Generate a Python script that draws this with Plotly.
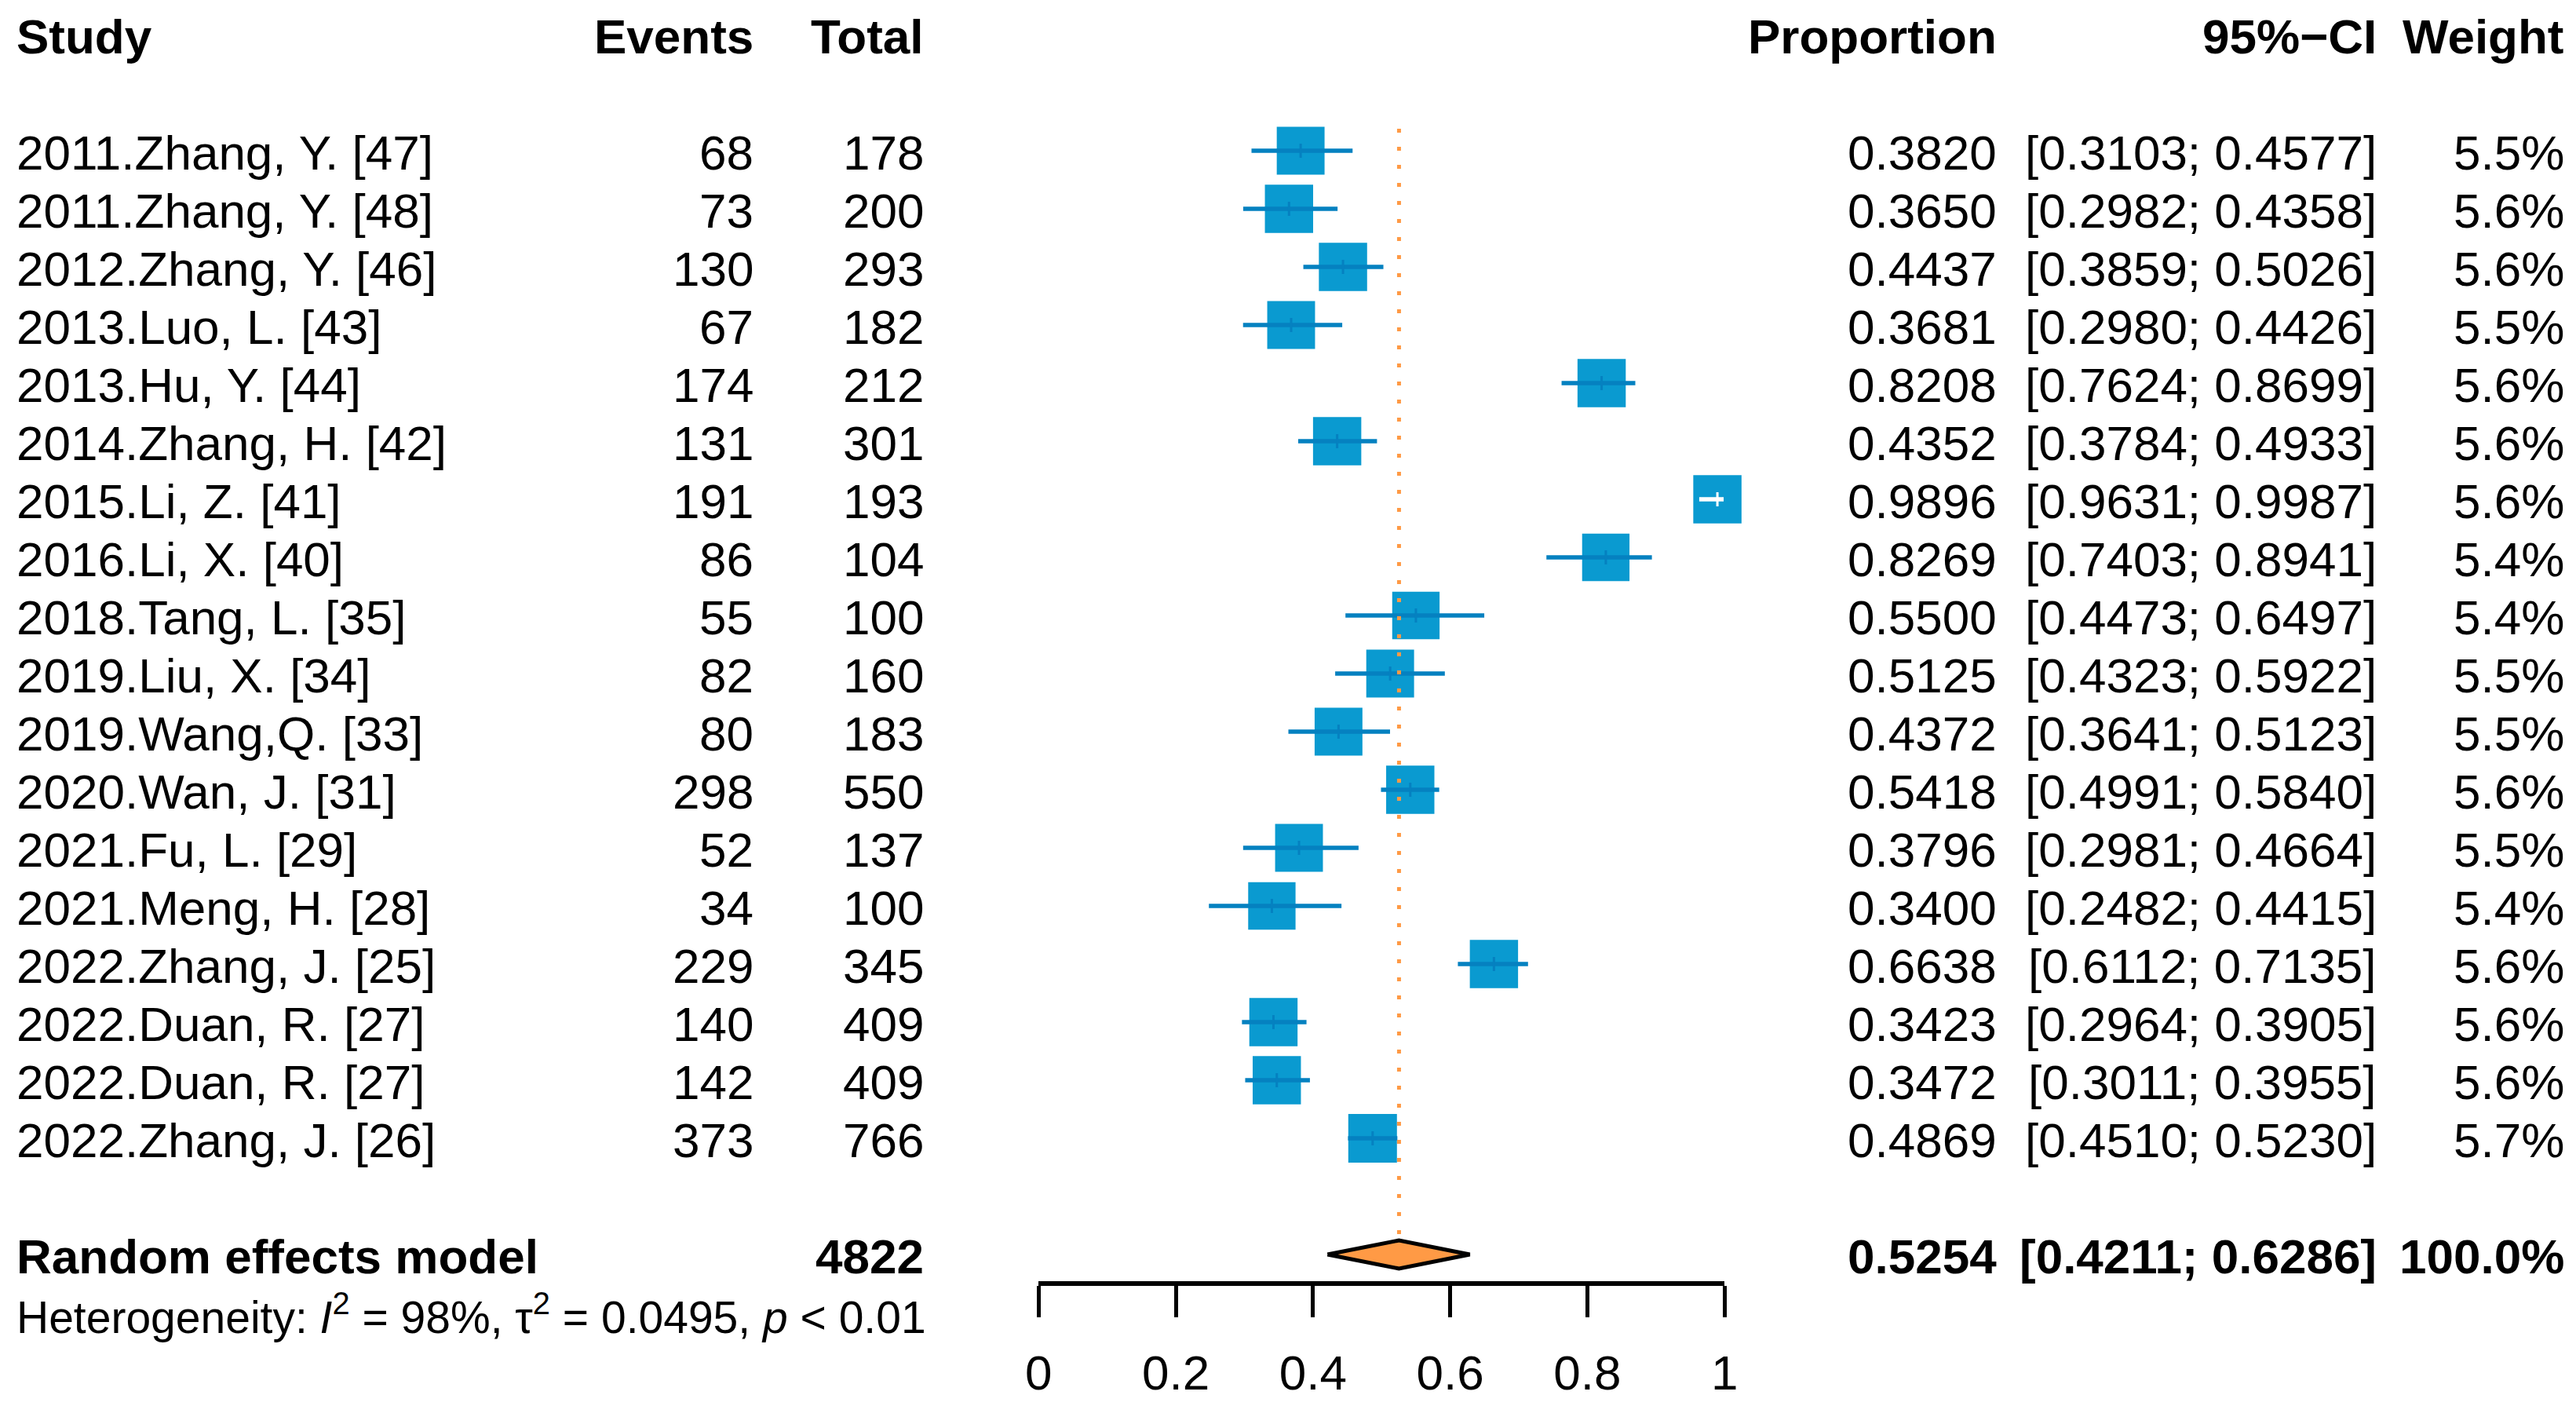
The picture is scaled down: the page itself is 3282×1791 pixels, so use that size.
import plotly.graph_objects as go
import math

# ---------------- data ----------------
studies = ["2011.Zhang, Y. [47]", "2011.Zhang, Y. [48]", "2012.Zhang, Y. [46]", "2013.Luo, L. [43]",
           "2013.Hu, Y. [44]", "2014.Zhang, H. [42]", "2015.Li, Z. [41]", "2016.Li, X. [40]",
           "2018.Tang, L. [35]", "2019.Liu, X. [34]", "2019.Wang,Q. [33]", "2020.Wan, J. [31]",
           "2021.Fu, L. [29]", "2021.Meng, H. [28]", "2022.Zhang, J. [25]", "2022.Duan, R. [27]",
           "2022.Duan, R. [27]", "2022.Zhang, J. [26]"]
events = [68, 73, 130, 67, 174, 131, 191, 86, 55, 82, 80, 298, 52, 34, 229, 140, 142, 373]
totals = [178, 200, 293, 182, 212, 301, 193, 104, 100, 160, 183, 550, 137, 100, 345, 409, 409, 766]
proportion = [0.3820, 0.3650, 0.4437, 0.3681, 0.8208, 0.4352, 0.9896, 0.8269, 0.5500, 0.5125,
              0.4372, 0.5418, 0.3796, 0.3400, 0.6638, 0.3423, 0.3472, 0.4869]
ci_lower = [0.3103, 0.2982, 0.3859, 0.2980, 0.7624, 0.3784, 0.9631, 0.7403, 0.4473, 0.4323,
            0.3641, 0.4991, 0.2981, 0.2482, 0.6112, 0.2964, 0.3011, 0.4510]
ci_upper = [0.4577, 0.4358, 0.5026, 0.4426, 0.8699, 0.4933, 0.9987, 0.8941, 0.6497, 0.5922,
            0.5123, 0.5840, 0.4664, 0.4415, 0.7135, 0.3905, 0.3955, 0.5230]
weights = [5.5, 5.6, 5.6, 5.5, 5.6, 5.6, 5.6, 5.4, 5.4, 5.5, 5.5, 5.6, 5.5, 5.4, 5.6, 5.6, 5.6, 5.7]

re_total = 4822
re_est, re_lower, re_upper, re_weight = 0.5254, 0.4211, 0.6286, 100.0
het_text = "Heterogeneity: <i>I</i><sup>2</sup> = 98%, τ<sup>2</sup> = 0.0495, <i>p</i> &lt; 0.01"
x_ticks = [0, 0.2, 0.4, 0.6, 0.8, 1]
x_tick_labels = ["0", "0.2", "0.4", "0.6", "0.8", "1"]
headers = ["Study", "Events", "Total", "Proportion", "95%−CI", "Weight"]

# ---------------- layout constants ----------------
W, H = 3282, 1791
ROW0_PX, ROW_PX = 44, 74          # header row centre and row spacing in pixels
FONT = "Liberation Sans, Arial, Helvetica, sans-serif"
FS, FS_HET = 62, 57
SQ_COL, LINE_COL, DIA_COL = "#0A9AD0", "#0581C0", "#FF9A45"

study_rows = [2 + i for i in range(len(studies))]
re_row = study_rows[-1] + 2
het_row = re_row + 1

x0_px, x1_px = 1320, 2203
dom = [x0_px / W, x1_px / W]
y_range = [(H - ROW0_PX) / ROW_PX, -ROW0_PX / ROW_PX]
axis_pos = 1 - 1635 / H

col_x = {"study": 2 / W, "events": 955 / W, "total": 1174 / W,
         "prop": 2555 / W, "ci": 3045 / W, "weight": 3286 / W}

fig = go.Figure()

# squares
sizes = [62 * math.sqrt(w / max(weights)) for w in weights]
fig.add_trace(go.Scatter(x=proportion, y=study_rows, mode="markers",
                         marker=dict(symbol="square", size=sizes, color=SQ_COL, opacity=1,
                                     line=dict(width=0)),
                         cliponaxis=False, hoverinfo="skip", showlegend=False))

# CI lines + estimate ticks (white when CI lies inside the square)
scale = (x1_px - x0_px)
for colour, inside in ((LINE_COL, False), ("white", True)):
    xs, ys, tx, ty = [], [], [], []
    for p, lo, hi, r, s in zip(proportion, ci_lower, ci_upper, study_rows, sizes):
        half = s / 2 / scale
        is_in = lo >= p - half and hi <= p + half
        if is_in != inside:
            continue
        xs += [lo, hi, None]
        ys += [r, r, None]
        tx += [p, p, None]
        ty += [r - 9 / ROW_PX, r + 9 / ROW_PX, None]
    fig.add_trace(go.Scatter(x=xs, y=ys, mode="lines", line=dict(color=colour, width=5.5),
                             hoverinfo="skip", showlegend=False))
    fig.add_trace(go.Scatter(x=tx, y=ty, mode="lines", line=dict(color=colour, width=3),
                             hoverinfo="skip", showlegend=False))

# reference (random effects) dotted line
fig.add_trace(go.Scatter(x=[re_est, re_est], y=[1.62, re_row - 18 / ROW_PX - 0.02], mode="lines",
                         line=dict(color=DIA_COL, width=5, dash="5px,18px"),
                         hoverinfo="skip", showlegend=False))

# diamond
dh = 18 / ROW_PX
fig.add_trace(go.Scatter(x=[re_lower, re_est, re_upper, re_est, re_lower],
                         y=[re_row, re_row - dh, re_row, re_row + dh, re_row],
                         mode="lines", fill="toself", fillcolor=DIA_COL,
                         line=dict(color="black", width=5), hoverinfo="skip", showlegend=False))

# ---------------- text columns ----------------
ann = []
def txt(x, y, s, anchor, size=FS, bold=False):
    ann.append(dict(x=x, y=y, xref="paper", yref="y", text=f"<b>{s}</b>" if bold else s,
                    showarrow=False, xanchor=anchor, yanchor="middle", yshift=-2,
                    font=dict(family=FONT, size=size, color="black")))

txt(col_x["study"], 0, headers[0], "left", bold=True)
txt(col_x["events"], 0, headers[1], "right", bold=True)
txt(col_x["total"], 0, headers[2], "right", bold=True)
txt(col_x["prop"], 0, headers[3], "right", bold=True)
txt(col_x["ci"], 0, headers[4], "right", bold=True)
txt(col_x["weight"], 0, headers[5], "right", bold=True)

for i, r in enumerate(study_rows):
    txt(col_x["study"], r, studies[i], "left")
    txt(col_x["events"], r, str(events[i]), "right")
    txt(col_x["total"], r, str(totals[i]), "right")
    txt(col_x["prop"], r, f"{proportion[i]:.4f}", "right")
    txt(col_x["ci"], r, f"[{ci_lower[i]:.4f}; {ci_upper[i]:.4f}]", "right")
    txt(col_x["weight"], r, f"{weights[i]:.1f}%", "right")

txt(col_x["study"], re_row, "Random effects model", "left", bold=True)
txt(col_x["total"], re_row, str(re_total), "right", bold=True)
txt(col_x["prop"], re_row, f"{re_est:.4f}", "right", bold=True)
txt(col_x["ci"], re_row, f"[{re_lower:.4f}; {re_upper:.4f}]", "right", bold=True)
txt(col_x["weight"], re_row, f"{re_weight:.1f}%", "right", bold=True)
txt(col_x["study"], het_row, het_text, "left", size=FS_HET)

fig.update_layout(
    width=W, height=H, margin=dict(l=0, r=0, t=0, b=0),
    paper_bgcolor="white", plot_bgcolor="white",
    annotations=ann, showlegend=False,
    xaxis=dict(domain=dom, range=[0, 1], anchor="free", position=axis_pos,
               showgrid=False, zeroline=False, showline=True, linecolor="black", linewidth=6,
               ticks="outside", ticklen=40, tickwidth=5, tickcolor="black",
               tickvals=x_ticks, ticktext=x_tick_labels, ticklabelstandoff=18,
               tickfont=dict(family=FONT, size=FS, color="black"), fixedrange=True),
    yaxis=dict(domain=[0, 1], range=y_range, visible=False, fixedrange=True),
)

fig.write_html("out.html", config={"displayModeBar": False},
               post_script="document.body.style.margin='0';document.body.style.overflow='hidden';")
